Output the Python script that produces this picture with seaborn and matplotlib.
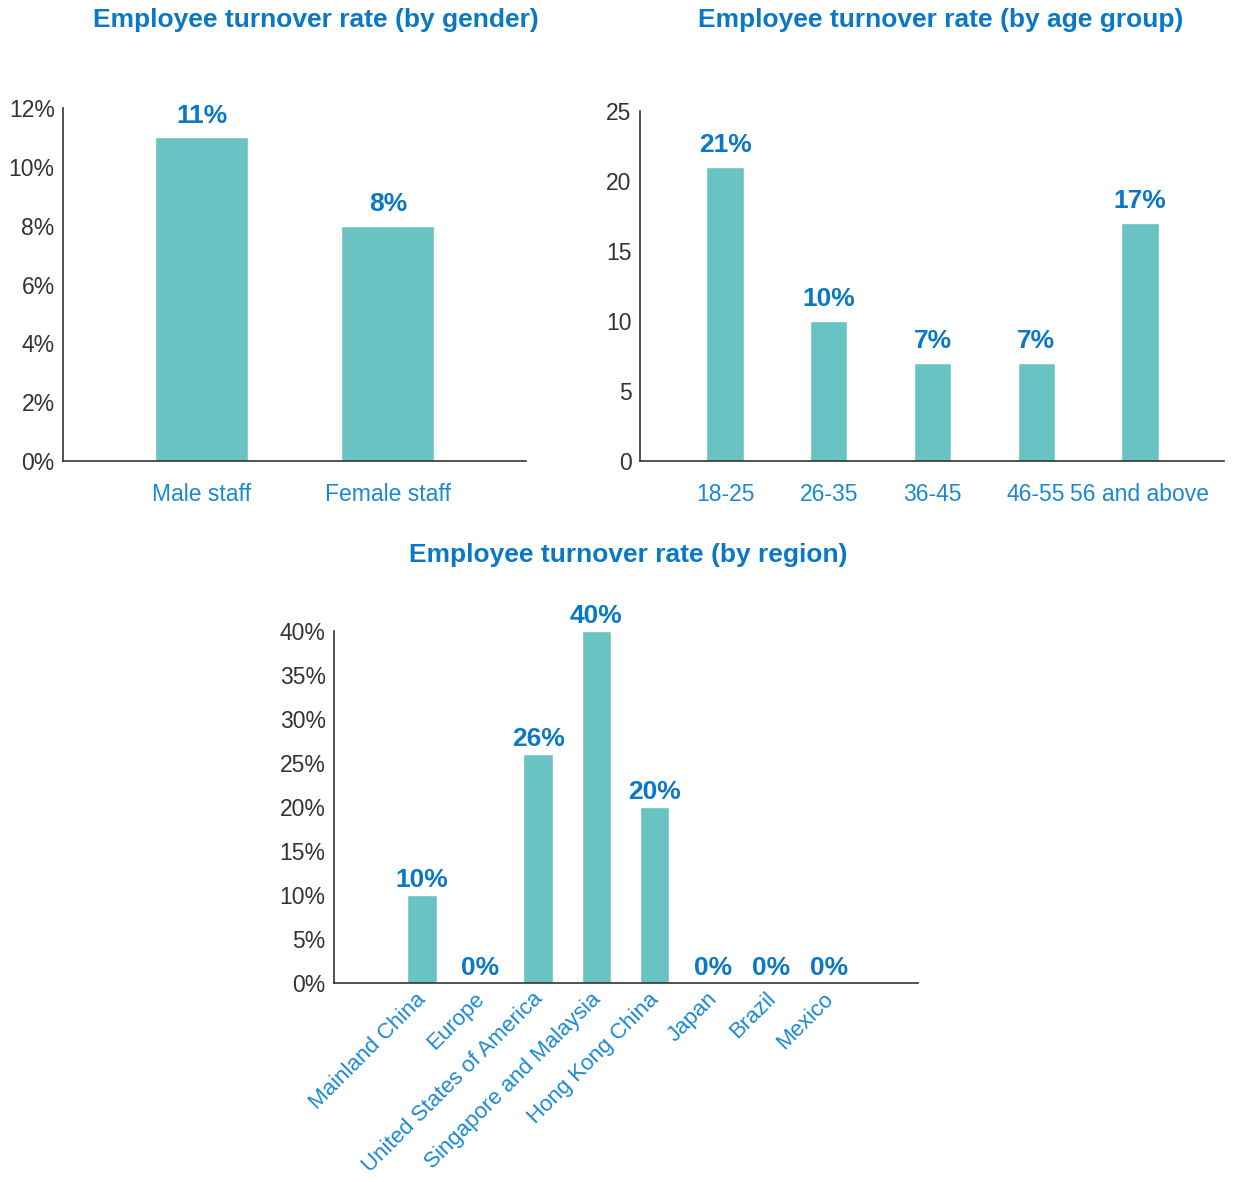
import matplotlib
matplotlib.use("Agg")
import matplotlib.pyplot as plt
import matplotlib.transforms as mtransforms
import seaborn as sns
import pandas as pd
from matplotlib.ticker import FuncFormatter

sns.set_style("white")
plt.rcParams['font.family'] = ['Liberation Sans', 'DejaVu Sans']

# Data
gender_cats = ["Male staff", "Female staff"]
gender_vals = [11, 8]
age_cats = ["18-25", "26-35", "36-45", "46-55", "56 and above"]
age_vals = [21, 10, 7, 7, 17]
region_cats = ["Mainland China", "Europe", "United States of America",
               "Singapore and Malaysia", "Hong Kong China", "Japan", "Brazil", "Mexico"]
region_vals = [10, 0, 26, 40, 20, 0, 0, 0]

BAR = "#69c3c3"
BLUE = "#0a78c4"
TICKBLUE = "#1c88d0"
DARK = "#333333"

fig = plt.figure(figsize=(12.42, 11.82), dpi=100)
W, H = 1242, 1182

def add_ax(l, t, r, b):
    return fig.add_axes([l / W, 1 - b / H, (r - l) / W, (b - t) / H])

ax1 = add_ax(63, 108, 526, 461)
ax2 = add_ax(640, 111, 1224, 461)
ax3 = add_ax(334, 631, 918, 983)

def style(ax, xpad, ypad=6):
    sns.despine(ax=ax)
    for s in ("left", "bottom"):
        ax.spines[s].set_color(DARK)
        ax.spines[s].set_linewidth(1.2)
    ax.tick_params(axis="both", length=0)
    ax.tick_params(axis="y", labelsize=16.5, labelcolor=DARK, pad=ypad)
    ax.tick_params(axis="x", labelsize=16.5, labelcolor=TICKBLUE, pad=xpad)
    ax.set_xlabel("")
    ax.set_ylabel("")

pct = FuncFormatter(lambda v, p: f"{int(round(v))}%")
TS = 19
VS = 19

# Gender
df1 = pd.DataFrame({"cat": gender_cats, "val": gender_vals})
sns.barplot(data=df1, x="cat", y="val", color=BAR, width=0.5, ax=ax1, saturation=1)
ax1.set_ylim(0, 12)
ax1.set_yticks(range(0, 13, 2))
ax1.yaxis.set_major_formatter(pct)
ax1.set_xlim(-0.747, 1.742)
style(ax1, xpad=16)
ax1.bar_label(ax1.containers[0], labels=[f"{v}%" for v in gender_vals],
              padding=7, color=BLUE, fontsize=VS, fontweight="bold")
fig.text(316 / W, 1 - 20 / H, "Employee turnover rate (by gender)", ha="center", va="center",
         fontsize=TS, fontweight="bold", color=BLUE)

# Age
df2 = pd.DataFrame({"cat": age_cats, "val": age_vals})
sns.barplot(data=df2, x="cat", y="val", color=BAR, width=0.36, ax=ax2, saturation=1)
ax2.set_ylim(0, 25)
ax2.set_yticks(range(0, 26, 5))
ax2.set_xlim(-0.82, 4.81)
style(ax2, xpad=16)
ax2.bar_label(ax2.containers[0], labels=[f"{v}%" for v in age_vals],
              padding=7, color=BLUE, fontsize=VS, fontweight="bold")
fig.text(941 / W, 1 - 20 / H, "Employee turnover rate (by age group)", ha="center", va="center",
         fontsize=TS, fontweight="bold", color=BLUE)

# Region
df3 = pd.DataFrame({"cat": region_cats, "val": region_vals})
sns.barplot(data=df3, x="cat", y="val", color=BAR, width=0.51, ax=ax3, saturation=1)
ax3.set_ylim(0, 40)
ax3.set_yticks(range(0, 41, 5))
ax3.yaxis.set_major_formatter(pct)
ax3.set_xlim(-1.51, 8.53)
style(ax3, xpad=4)
ax3.tick_params(axis="x", labelsize=16)
shift = mtransforms.ScaledTranslation(-6 / 100, 0, fig.dpi_scale_trans)
for lab in ax3.get_xticklabels():
    lab.set_rotation(45)
    lab.set_ha("right")
    lab.set_rotation_mode("anchor")
    lab.set_transform(lab.get_transform() + shift)
ax3.bar_label(ax3.containers[0], labels=[f"{v}%" for v in region_vals],
              padding=2, color=BLUE, fontsize=VS, fontweight="bold")
fig.text(628 / W, 1 - 555 / H, "Employee turnover rate (by region)", ha="center", va="center",
         fontsize=TS, fontweight="bold", color=BLUE)

fig.savefig("out.png", dpi=100, facecolor="white")
